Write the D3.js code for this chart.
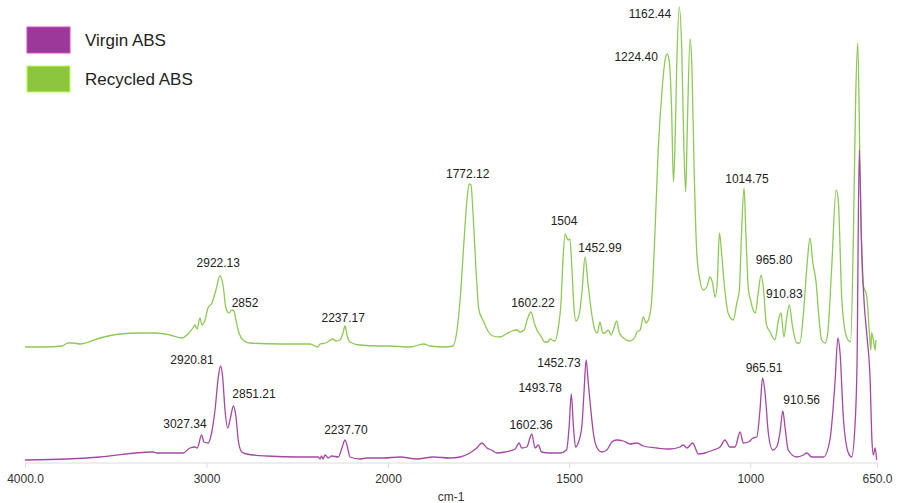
<!DOCTYPE html>
<html>
<head>
<meta charset="utf-8">
<title>FTIR ABS</title>
<style>
    body { margin:0; background:#fff; }
    svg { display:block; font-family:"Liberation Sans", Arial, Helvetica, sans-serif; }
</style>
</head>
<body>
<svg id="chart"></svg>
<script src="https://d3js.org/d3.v7.min.js"></script>
<script>
// spectra (wavenumber cm-1, absorbance a.u.)
const recycledWn = [4000,3890,3796,3763,3736,3697,3587,3477,3367,3284,3201,3135,3102,3075,3064,3052,3036,3025,3008,2992,2970,2948,2926,2909,2893,2876,2860,2849,2838,2821,2799,2761,2595,2430,2386,2375,2342,2303,2287,2265,2248,2237,2226,2210,2155,2044,
    2000,1939,1901,1884,1843,1821,1812,1801,1790,1782,1776,1771,1765,1757,1749,1738,1724,1710,1691,1674,1658,1644,1636,1624,1616,1605,1597,1589,1578,1567,1558,1553,1547,1539,1531,1522,1517,1511,1506,1503,1498,1492,1487,1481,1475,1470,1464,1456,1448,1438,1429,1422,1415,1407,1401,1392,1384,1376,1369,1361,1350,1332,1318,1313,1304,1295,1288,1281,1272,1263,1254,1244,1235,1229,1223,1217,1212,1208,1203,1196,1189,1183,1178,1174,1166,1161,1155,1148,1139,1130,1120,1111,1104,1097,1091,1085,1079,1072,1061,1047,1037,1030,1024,1017,1012,1005,999,992,986,978,970,964,955,945,932,922,915,907,899,892,883,872,863,853,842,835,827,818,812,803,793,786,775,763,757,747,734,723,715,709,703,697,689,678,671,667,665,660,655,653];
const recycledAbs = [116,116,117,120,120,119,125,129,130,130,128,125,129,135,138,134,145,138,143,155,160,173,187,178,155,150,153,152,143,130,123,120,119,119,116,119,120,124,122,123,130,137,128,121,118,117,
    117,116,119,117,116,117,127,163,223,263,279,278,248,193,153,143,132,127,126,129,132,133,131,133,143,151,141,133,127,121,121,124,123,122,133,163,203,229,225,223,224,193,157,142,145,153,173,206,180,150,133,130,141,130,130,133,128,135,142,130,125,122,126,131,133,146,140,143,163,230,313,370,403,409,400,353,281,313,396,456,413,313,271,330,424,396,296,213,183,173,176,186,180,166,180,230,210,180,150,143,160,173,230,275,230,173,163,153,150,170,188,176,138,131,123,143,150,126,146,158,136,120,120,150,203,225,200,180,153,123,120,130,196,273,263,163,126,121,230,363,420,296,180,166,130,113,130,123,113,123];

const virginWn = [4000,3770,3587,3302,3293,3275,3128,3091,3064,3051,3027,3014,2990,2972,2953,2935,2922,2911,2898,2883,2867,2852,2839,2825,2806,2779,2669,2485,2384,2375,2366,2357,2347,2329,2310,2274,2252,2237,2222,2210,2155,2118,2026,
    1967,1921,1875,1829,1801,1774,1755,1741,1727,1714,1700,1677,1649,1638,1631,1617,1603,1594,1585,1576,1553,1525,1507,1500,1494,1488,1482,1475,1465,1459,1453,1447,1440,1433,1424,1410,1396,1382,1369,1350,1332,1313,1295,1258,1222,1194,1185,1175,1159,1143,1125,1102,1083,1070,1056,1042,1028,1019,1005,992,982,973,966,959,950,938,927,918,910,904,895,872,853,844,830,798,780,766,758,752,743,729,720,711,705,699,693,686,678,669,664,660,655,651];
const virginAbs = [3,4,6,11,11,10,10,15,16,15,28,21,20,30,53,86,97,86,53,35,46,57,48,23,11,9,7,6,6,4,7,4,8,5,7,6,16,23,15,6,4,5,5,
    6,4,6,5,6,10,15,20,15,13,10,11,14,20,15,16,29,15,18,11,10,10,13,36,69,36,16,20,36,70,103,80,53,30,16,11,13,21,23,22,19,20,17,15,14,16,18,15,20,9,10,13,16,23,16,16,31,20,21,25,26,53,85,70,30,13,16,30,52,36,13,6,8,10,6,6,23,80,125,110,46,10,6,36,103,313,223,163,128,83,23,8,15,3];

// peak annotations: text and where it sits on the chart (wavenumber, absorbance)
const labelText = ["2922.13","2852","2237.17","1772.12","1602.22","1504","1452.99","1224.40","1162.44","1014.75","965.80","910.83",
    "3027.34","2920.81","2851.21","2237.70","1602.36","1493.78","1452.73","965.51","910.56"];
const labelWn  = [2935,2788,2247,1780,1600,1514,1415,1315,1277,1009,934,906, 3119,3080,2738,2232,1605,1580,1528,962,858];
const labelAbs = [200,160,145,289,160,242,215,406,449,284,203,169, 39,103,69,33,38,75,100,95,63];

const tickValues = [4000, 3000, 2000, 1500, 1000, 650];
const tickLabels = ["4000.0", "3000", "2000", "1500", "1000", "650.0"];

const seriesNames = ["Virgin ABS", "Recycled ABS"];
const seriesColors = ["#9c3897", "#8cc63f"];
const lineColors = ["#a548a3", "#8ec955"];

const width = 901, height = 503;
const svg = d3.select("#chart").attr("width", width).attr("height", height);

// FTIR axis: scale doubles below 2000 cm-1
const x = d3.scaleLinear().domain([4000, 2000, 650]).range([25, 388, 877]);
const y = d3.scaleLinear().domain([0, 460]).range([463, 3]);

const axisY = y(0);
const xAxis = d3.axisBottom(x)
    .tickValues(tickValues)
    .tickFormat((d, i) => tickLabels[i])
    .tickSize(5)
    .tickPadding(6);

const gX = svg.append("g").attr("transform", `translate(0,${axisY})`).call(xAxis);
gX.select(".domain").attr("stroke", "#dcdcdc").attr("d", `M${x(4000)},0H${x(650)}`);
gX.selectAll(".tick line").attr("stroke", "#dcdcdc");
gX.selectAll(".tick text").attr("fill", "#333").attr("font-size", 12);

svg.append("text")
    .attr("x", (x(4000) + x(650)) / 2)
    .attr("y", 501)
    .attr("text-anchor", "middle")
    .attr("font-size", 12)
    .attr("fill", "#333")
    .text("cm-1");

const line = d3.line()
    .x(d => x(d[0]))
    .y(d => y(d[1]))
    .curve(d3.curveMonotoneX);

const recycled = recycledWn.map((w, i) => [w, recycledAbs[i]]);
const virgin = virginWn.map((w, i) => [w, virginAbs[i]]);

svg.append("path").datum(recycled)
    .attr("fill", "none").attr("stroke", lineColors[1]).attr("stroke-width", 1.3)
    .attr("d", line);
svg.append("path").datum(virgin)
    .attr("fill", "none").attr("stroke", lineColors[0]).attr("stroke-width", 1.3)
    .attr("d", line);

svg.append("g").selectAll("text")
    .data(labelText)
    .join("text")
    .attr("x", (d, i) => x(labelWn[i]))
    .attr("y", (d, i) => y(labelAbs[i]))
    .attr("dy", "0.35em")
    .attr("text-anchor", "middle")
    .attr("font-size", 12)
    .attr("fill", "#222")
    .text(d => d);

// legend
const legend = svg.append("g");
seriesNames.forEach((name, i) => {
    const top = 27 + i * 39;
    legend.append("rect")
        .attr("x", 27).attr("y", top)
        .attr("width", 43).attr("height", 26)
        .attr("fill", seriesColors[i])
        .attr("stroke", d3.color(seriesColors[i]).brighter(0.8))
        .attr("stroke-width", 1);
    legend.append("text")
        .attr("x", 85).attr("y", top + 13)
        .attr("dy", "0.35em")
        .attr("font-size", 17)
        .attr("fill", "#222")
        .text(name);
});
</script>
</body>
</html>
